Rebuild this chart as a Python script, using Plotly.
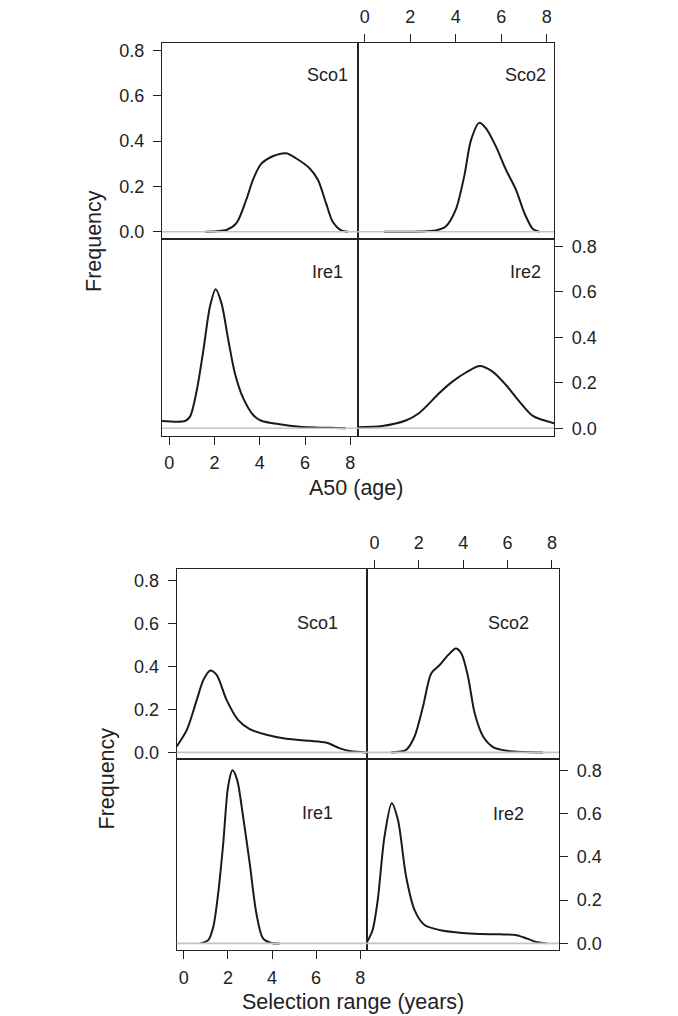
import plotly.graph_objects as go

# ---------------- data ----------------
panel_names = ["Sco1", "Sco2", "Ire1", "Ire2"]
x_ticks = [0, 2, 4, 6, 8]
y_ticks = [0.0, 0.2, 0.4, 0.6, 0.8]
y_tick_text = ["0.0", "0.2", "0.4", "0.6", "0.8"]

# Figure A: A50 (age)
a50_sco1_x = [1.6, 2.1, 2.55, 2.97, 3.4, 3.7, 4.07, 4.6, 5.17, 5.6, 6.2, 6.57, 6.93, 7.22, 7.6, 7.9]
a50_sco1_y = [0.0, 0.002, 0.009, 0.038, 0.14, 0.229, 0.30, 0.334, 0.346, 0.324, 0.28, 0.229, 0.126, 0.045, 0.006, 0.0]

a50_sco2_x = [0.84, 2.5, 3.12, 3.56, 4.0, 4.37, 4.67, 5.03, 5.33, 5.77, 6.21, 6.65, 7.02, 7.39, 7.68]
a50_sco2_y = [0.0, 0.001, 0.006, 0.023, 0.097, 0.243, 0.404, 0.48, 0.456, 0.375, 0.273, 0.185, 0.082, 0.012, 0.0]

a50_ire1_x = [-0.32, 0.70, 0.92, 1.22, 1.51, 1.80, 2.05, 2.31, 2.61, 2.90, 3.27, 3.71, 4.07, 4.88, 5.76, 7.37, 7.8]
a50_ire1_y = [0.032, 0.032, 0.051, 0.168, 0.344, 0.535, 0.611, 0.549, 0.388, 0.242, 0.132, 0.058, 0.033, 0.0175, 0.007, 0.001, 0.0]

a50_ire2_x = [-0.32, 0.77, 1.80, 2.38, 3.27, 3.85, 4.45, 5.06, 5.62, 6.21, 6.80, 7.39, 8.32]
a50_ire2_y = [0.004, 0.010, 0.034, 0.066, 0.154, 0.205, 0.245, 0.274, 0.249, 0.190, 0.117, 0.054, 0.022]

# Figure B: Selection range (years)
sr_sco1_x = [-0.32, 0.14, 0.59, 0.89, 1.19, 1.49, 1.94, 2.46, 2.99, 3.75, 4.65, 5.70, 6.45, 7.05, 7.58, 8.26]
sr_sco1_y = [0.028, 0.105, 0.244, 0.337, 0.38, 0.36, 0.244, 0.151, 0.108, 0.082, 0.063, 0.054, 0.046, 0.020, 0.005, 0.0]

sr_sco2_x = [0.75, 1.43, 1.81, 2.19, 2.56, 2.94, 3.32, 3.67, 3.92, 4.22, 4.52, 4.9, 5.35, 5.96, 6.71, 7.6]
sr_sco2_y = [0.0, 0.012, 0.074, 0.213, 0.367, 0.406, 0.452, 0.483, 0.46, 0.352, 0.182, 0.074, 0.025, 0.008, 0.002, 0.0]

sr_ire1_x = [0.74, 1.11, 1.34, 1.56, 1.79, 2.01, 2.21, 2.42, 2.69, 2.99, 3.29, 3.59, 3.97, 4.35]
sr_ire1_y = [0.0, 0.015, 0.077, 0.231, 0.463, 0.725, 0.80, 0.756, 0.586, 0.37, 0.139, 0.023, 0.002, 0.0]

sr_ire2_x = [-0.32, -0.08, 0.15, 0.45, 0.78, 1.06, 1.43, 1.81, 2.26, 2.94, 3.85, 4.75, 5.66, 6.41, 6.86, 7.24, 7.77]
sr_ire2_y = [0.008, 0.062, 0.20, 0.49, 0.648, 0.571, 0.308, 0.154, 0.085, 0.062, 0.049, 0.043, 0.042, 0.038, 0.023, 0.008, 0.0]

# ---------------- layout helpers ----------------
OFF = 8                      # page body margin of the browser
W, H = 678 - OFF, 1016 - OFF
FONT = "Liberation Sans, Arial, Helvetica, sans-serif"
INK = "#222222"
LINE = "#1a1a1a"
GRAY = "#c4c4c4"
TICK_FS = 18
TITLE_FS = 21.5

def px_x(p):
    return (p - OFF) / W

def px_y(p):
    return 1 - (p - OFF) / H

figures = [
    {   # top block
        "curves": [(a50_sco1_x, a50_sco1_y), (a50_sco2_x, a50_sco2_y),
                   (a50_ire1_x, a50_ire1_y), (a50_ire2_x, a50_ire2_y)],
        "xl": (162, 357.5), "xr": (357.5, 554),
        "yu": (43, 239), "yl": (239, 435.5),
        "yrange": [-0.032, 0.832],
        "xtitle": "A50 (age)", "xtitle_pos": (355.7, 488),
        "ytitle_pos": (94, 241),
        "labels": [(327, 75.5), (525, 75.5), (327, 271.7), (525.3, 271.7)],
    },
    {   # bottom block
        "curves": [(sr_sco1_x, sr_sco1_y), (sr_sco2_x, sr_sco2_y),
                   (sr_ire1_x, sr_ire1_y), (sr_ire2_x, sr_ire2_y)],
        "xl": (176.7, 367.3), "xr": (367.3, 559),
        "yu": (569.3, 759.3), "yl": (759.3, 950.3),
        "yrange": [-0.032, 0.851],
        "xtitle": "Selection range (years)", "xtitle_pos": (352.5, 1002),
        "ytitle_pos": (106.5, 779),
        "labels": [(317, 622.5), (508, 622.5), (317.2, 813), (508, 813.5)],
    },
]

fig = go.Figure()
layout = dict(width=W, height=H, margin=dict(l=0, r=0, t=0, b=0, autoexpand=False),
              paper_bgcolor="white", plot_bgcolor="white", showlegend=False,
              font=dict(family=FONT, color=INK, size=TICK_FS))
shapes = []
annotations = []

idx = 0
for f in figures:
    # panel order: upper-left, upper-right, lower-left, lower-right
    panels = [(f["xl"], f["yu"]), (f["xr"], f["yu"]), (f["xl"], f["yl"]), (f["xr"], f["yl"])]
    for k, ((x0, x1), (y0, y1)) in enumerate(panels):
        idx += 1
        xn = "x" if idx == 1 else f"x{idx}"
        yn = "y" if idx == 1 else f"y{idx}"
        xa = "xaxis" if idx == 1 else f"xaxis{idx}"
        ya = "yaxis" if idx == 1 else f"yaxis{idx}"
        cx, cy = f["curves"][k]
        fig.add_trace(go.Scatter(x=cx, y=cy, mode="lines", xaxis=xn, yaxis=yn,
                                 line=dict(color=LINE, width=2, shape="spline", smoothing=0.8),
                                 hoverinfo="skip"))
        xax = dict(domain=[px_x(x0), px_x(x1)], anchor=yn, range=[-0.32, 8.32],
                   showgrid=False, zeroline=False, showline=True, mirror=True,
                   linecolor=INK, linewidth=1.3, tickvals=x_ticks,
                   ticks="", showticklabels=False, fixedrange=True)
        yax = dict(domain=[px_y(y1), px_y(y0)], anchor=xn, range=f["yrange"],
                   showgrid=False, zeroline=False, showline=True, mirror=True,
                   linecolor=INK, linewidth=1.3, tickvals=y_ticks, ticktext=y_tick_text,
                   ticks="", showticklabels=False, fixedrange=True)
        tickstyle = dict(ticks="outside", ticklen=8, tickwidth=1.2, tickcolor=INK,
                         showticklabels=True, tickfont=dict(size=TICK_FS, color=INK, family=FONT))
        if k == 0:      # left y-axis
            yax.update(tickstyle, side="left", ticklabelstandoff=5)
        if k == 1:      # top x-axis
            xax.update(tickstyle, side="top", ticklabelstandoff=4)
        if k == 2:      # bottom x-axis
            xax.update(tickstyle, side="bottom", ticklabelstandoff=3)
        if k == 3:      # right y-axis
            yax.update(tickstyle, side="right", ticklabelstandoff=5)
        layout[xa] = xax
        layout[ya] = yax
        shapes.append(dict(type="line", xref=f"{xn} domain", yref=yn, x0=0, x1=1, y0=0, y1=0,
                           line=dict(color=GRAY, width=1.6), layer="above"))
        lx, ly = f["labels"][k]
        annotations.append(dict(text=panel_names[k], xref="paper", yref="paper",
                                x=px_x(lx), y=px_y(ly), xanchor="center", yanchor="middle",
                                showarrow=False, font=dict(size=TICK_FS, color=INK, family=FONT)))
    tx, ty = f["xtitle_pos"]
    annotations.append(dict(text=f["xtitle"], xref="paper", yref="paper", x=px_x(tx), y=px_y(ty),
                            xanchor="center", yanchor="middle", showarrow=False,
                            font=dict(size=TITLE_FS, color=INK, family=FONT)))
    vx, vy = f["ytitle_pos"]
    annotations.append(dict(text="Frequency", xref="paper", yref="paper", x=px_x(vx), y=px_y(vy),
                            xanchor="center", yanchor="middle", showarrow=False, textangle=-90,
                            font=dict(size=TITLE_FS, color=INK, family=FONT)))

layout["shapes"] = shapes
layout["annotations"] = annotations
fig.update_layout(**layout)
fig.write_html("out.html")
